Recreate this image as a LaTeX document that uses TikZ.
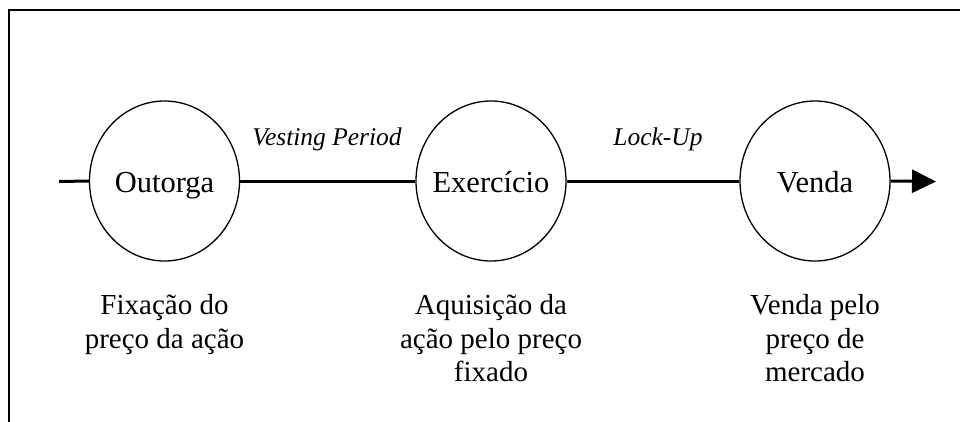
\documentclass[tikz,border=0pt]{standalone}
\usepackage{fontspec}
\setmainfont{Liberation Serif}
\usetikzlibrary{arrows.meta,shapes.geometric}
\newcommand{\stagetext}[1]{\makebox[0pt][c]{#1}}
\begin{document}
\begin{tikzpicture}[x=1pt,y=-1pt,
  frame/.style={line width=1.4pt},
  stage/.style={draw,ellipse,minimum width=150pt,minimum height=160pt,inner sep=0pt,line width=1.3pt,
     text height=22pt,text depth=0pt,font=\fontsize{30.5}{30.5}\selectfont},
  flow/.style={line width=3pt},
  period/.style={anchor=base,font=\fontsize{25.5}{25.5}\selectfont\itshape,inner sep=0pt},
  desc/.style={anchor=base,align=center,inner sep=0pt,font=\fontsize{29}{33.5}\selectfont}]
\useasboundingbox (0,0) rectangle (960,421);
\draw[frame] (9,430) -- (9,10) -- (970,10);
\node[stage] (o) at (164.5,181) {\stagetext{Outorga}};
\node[stage] (e) at (491,181) {\stagetext{Exercício}};
\node[stage] (v) at (815,181) {\stagetext{Venda}};
\coordinate (start) at (59,181.5);
\coordinate (end) at (936,181.5);
\draw[flow] (start) -- (o.west);
\draw[flow] (o.east) -- (e.west);
\draw[flow] (e.east) -- (v.west);
\draw[flow,-{Triangle[length=24pt,width=23pt]}] (v.east) -- (end);
\node[period] (vp) at (327,145) {Vesting Period};
\node[period] (lu) at (658,145) {Lock-Up};
\node[desc] (d1) at (164.5,348) {Fixação do\\preço da ação};
\node[desc] (d2) at (491,381.5) {Aquisição da\\ação pelo preço\\fixado};
\node[desc] (d3) at (815,381.5) {Venda pelo\\preço de\\mercado};
\end{tikzpicture}
\end{document}
